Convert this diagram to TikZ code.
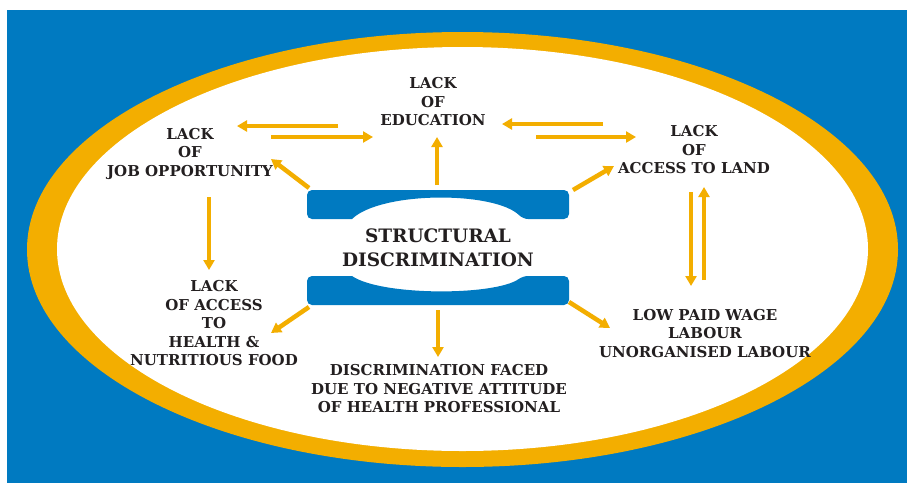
\documentclass[tikz,border=0pt]{standalone}
\usepackage{fontspec}
\setmainfont{DejaVu Serif}
\usetikzlibrary{arrows.meta,calc}
\definecolor{sdblue}{RGB}{0,122,193}
\definecolor{sdorange}{RGB}{243,174,0}
\definecolor{sdtext}{RGB}{35,31,32}

\begin{document}
\begin{tikzpicture}[x=1pt,y=-1pt,
		lbl/.style={align=center,inner sep=0pt,text=sdtext,
			font=\fontsize{15}{18.5}\selectfont\bfseries},
		arr/.style={draw=sdorange,line width=4.5pt,
			-{Triangle[length=10pt,width=11pt]}}]

		\useasboundingbox (0,0) rectangle (907,483);
		\fill[sdblue] (7,10) rectangle (907,483);
		\fill[sdorange] (462.5,249.5) ellipse [x radius=435.5,y radius=217.5];
		\fill[white] (462.5,249) ellipse [x radius=405.5,y radius=202];

		% central box
		\fill[sdblue,rounded corners=5pt] (352,219) -- (307,219) -- (307,190) -- (569,190) -- (569,219) -- (523,219)
			[sharp corners] .. controls (495,191) and (381,191) .. (352,219) -- cycle;
		\fill[sdblue,rounded corners=5pt] (352,276) -- (307,276) -- (307,305) -- (569,305) -- (569,276) -- (523,276)
			[sharp corners] .. controls (495,296) and (381,296) .. (352,276) -- cycle;
		\node[lbl,font=\fontsize{18.5}{24}\selectfont\bfseries] (sd) at (438,248) {STRUCTURAL\\DISCRIMINATION};

		\node[lbl] (edu) at (433,102) {LACK\\OF\\EDUCATION};
		\node[lbl] (job) at (190,153.5) {LACK\\OF\\JOB OPPORTUNITY};
		\node[lbl] (land) at (694,150) {LACK\\OF\\ACCESS TO LAND};
		\node[lbl] (health) at (214,323.5) {LACK\\OF ACCESS\\TO\\HEALTH \&\\NUTRITIOUS FOOD};
		\node[lbl] (faced) at (439,389) {DISCRIMINATION FACED\\DUE TO NEGATIVE ATTITUDE\\OF HEALTH PROFESSIONAL};
		\node[lbl] (low) at (705,333.5) {LOW PAID WAGE\\LABOUR\\UNORGANISED LABOUR};

		\draw[arr] ($(edu)+(-95,24)$) -- ($(job)+(47,-27.5)$);
		\draw[arr] ($(job)+(81,-16.5)$) -- ($(edu)+(-60,35)$);
		\draw[arr] ($(land)+(-91,-26)$) -- ($(edu)+(69,22)$);
		\draw[arr] ($(edu)+(103,35)$) -- ($(land)+(-58,-13)$);
		\draw[arr] ($(sd)+(-1,-63)$) -- ($(edu)+(4,35)$);
		\draw[arr] ($(sd)+(-129,-60)$) -- ($(job)+(81,5.5)$);
		\draw[arr] ($(sd)+(135,-58)$) -- ($(land)+(-80,16)$);
		\draw[arr] ($(land)+(-3,42)$) -- ($(low)+(-14,-47.5)$);
		\draw[arr] ($(low)+(-1,-53.5)$) -- ($(land)+(10,37)$);
		\draw[arr] ($(job)+(19,43.5)$) -- ($(health)+(-5,-53.5)$);
		\draw[arr] ($(sd)+(-129,59)$) -- ($(health)+(57,9.5)$);
		\draw[arr] ($(sd)+(0,62)$) -- ($(faced)+(-1,-32)$);
		\draw[arr] ($(sd)+(131,54)$) -- ($(low)+(-95,-5.5)$);

	\end{tikzpicture}
\end{document}
